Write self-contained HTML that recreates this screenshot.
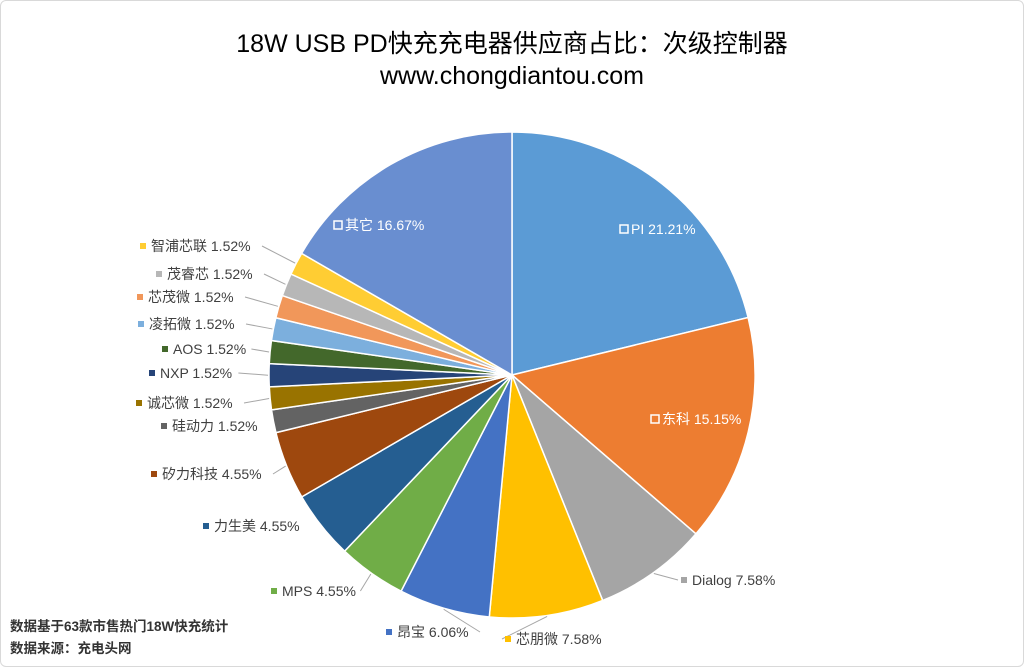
<!DOCTYPE html>
<html><head><meta charset="utf-8"><style>
body{margin:0;background:#fff;}
.wrap{position:absolute;left:0;top:0;width:1022px;height:665px;border:1px solid #d9d9d9;border-radius:6px;}
svg text{font-family:"Liberation Sans","Noto Sans CJK SC",sans-serif;}
</style></head><body>
<div class="wrap"></div>
<svg id="s" width="1024" height="667" style="position:absolute;left:0;top:0">
<text x="512" y="52" font-size="25" text-anchor="middle" fill="#000">18W USB PD快充充电器供应商占比：次级控制器</text>
<text x="512" y="84" font-size="25" text-anchor="middle" fill="#000">www.chongdiantou.com</text>
<text x="10" y="631" font-size="13.5" font-weight="bold" fill="#333">数据基于63款市售热门18W快充统计</text>
<text x="10" y="653" font-size="13.5" font-weight="bold" fill="#333">数据来源：充电头网</text>
</svg>
<script>
var cx=512,cy=375,r=243;
var d=[
["PI",21.21,"#5B9BD5",631,229,1],
["东科",15.15,"#ED7D31",662,419,1],
["Dialog",7.58,"#A5A5A5",692,580,0],
["芯朋微",7.58,"#FFC000",516,639,0],
["昂宝",6.06,"#4472C4",397,632,0],
["MPS",4.55,"#70AD47",282,591,0],
["力生美",4.55,"#255E91",214,526,0],
["矽力科技",4.55,"#9E480E",162,474,0],
["硅动力",1.52,"#636363",172,426,0],
["诚芯微",1.52,"#997300",147,403,0],
["NXP",1.52,"#264478",160,373,0],
["AOS",1.52,"#43682B",173,349,0],
["凌拓微",1.52,"#7CAFDD",149,324,0],
["芯茂微",1.52,"#F1975A",148,297,0],
["茂睿芯",1.52,"#B7B7B7",167,274,0],
["智浦芯联",1.52,"#FFCD33",151,246,0],
["其它",16.67,"#698ED0",345,225,1]];
var tot=0;d.forEach(function(e){tot+=e[1]});
var s=document.getElementById('s'),a=0,h="";
function pt(t,rr){return [cx+rr*Math.sin(t),cy-rr*Math.cos(t)];}
d.forEach(function(e){
 var a0=a,a1=a+e[1]/tot*2*Math.PI;a=a1;
 var p0=pt(a0,r),p1=pt(a1,r),lg=(a1-a0)>Math.PI?1:0;
 h+='<path d="M'+cx+','+cy+'L'+p0[0]+','+p0[1]+'A'+r+','+r+' 0 '+lg+' 1 '+p1[0]+','+p1[1]+'Z" fill="'+e[2]+'" stroke="#fff" stroke-width="1.5"/>';
 var lab=e[0]+" "+e[1].toFixed(2)+"%";
 var tw=0;for(var i=0;i<lab.length;i++){tw+=lab.charCodeAt(i)>255?14:(lab[i]=='%'?12:7.8);}
 if(!e[5]){
   var m=(a0+a1)/2,q=pt(m,r+1),lx,ly=e[4];
   if(m>Math.PI){lx=e[3]+tw+4;}else{lx=e[3]-14;}
   if(Math.hypot(q[0]-lx,q[1]-ly)>12)
   h+='<line x1="'+lx+'" y1="'+ly+'" x2="'+q[0]+'" y2="'+q[1]+'" stroke="#a6a6a6" stroke-width="1"/>';
 }
 var mk=e[5]?'<rect x="'+(e[3]-11)+'" y="'+(e[4]-4)+'" width="8" height="8" fill="none" stroke="#fff" stroke-width="1.5"/>'
  :'<rect x="'+(e[3]-11)+'" y="'+(e[4]-3)+'" width="6" height="6" fill="'+e[2]+'"/>';
 h+=mk+'<text x="'+e[3]+'" y="'+(e[4]+5)+'" font-size="14" fill="'+(e[5]?'#fff':'#404040')+'">'+lab+'</text>';
});
s.insertAdjacentHTML('beforeend',h);
</script>
</body></html>
